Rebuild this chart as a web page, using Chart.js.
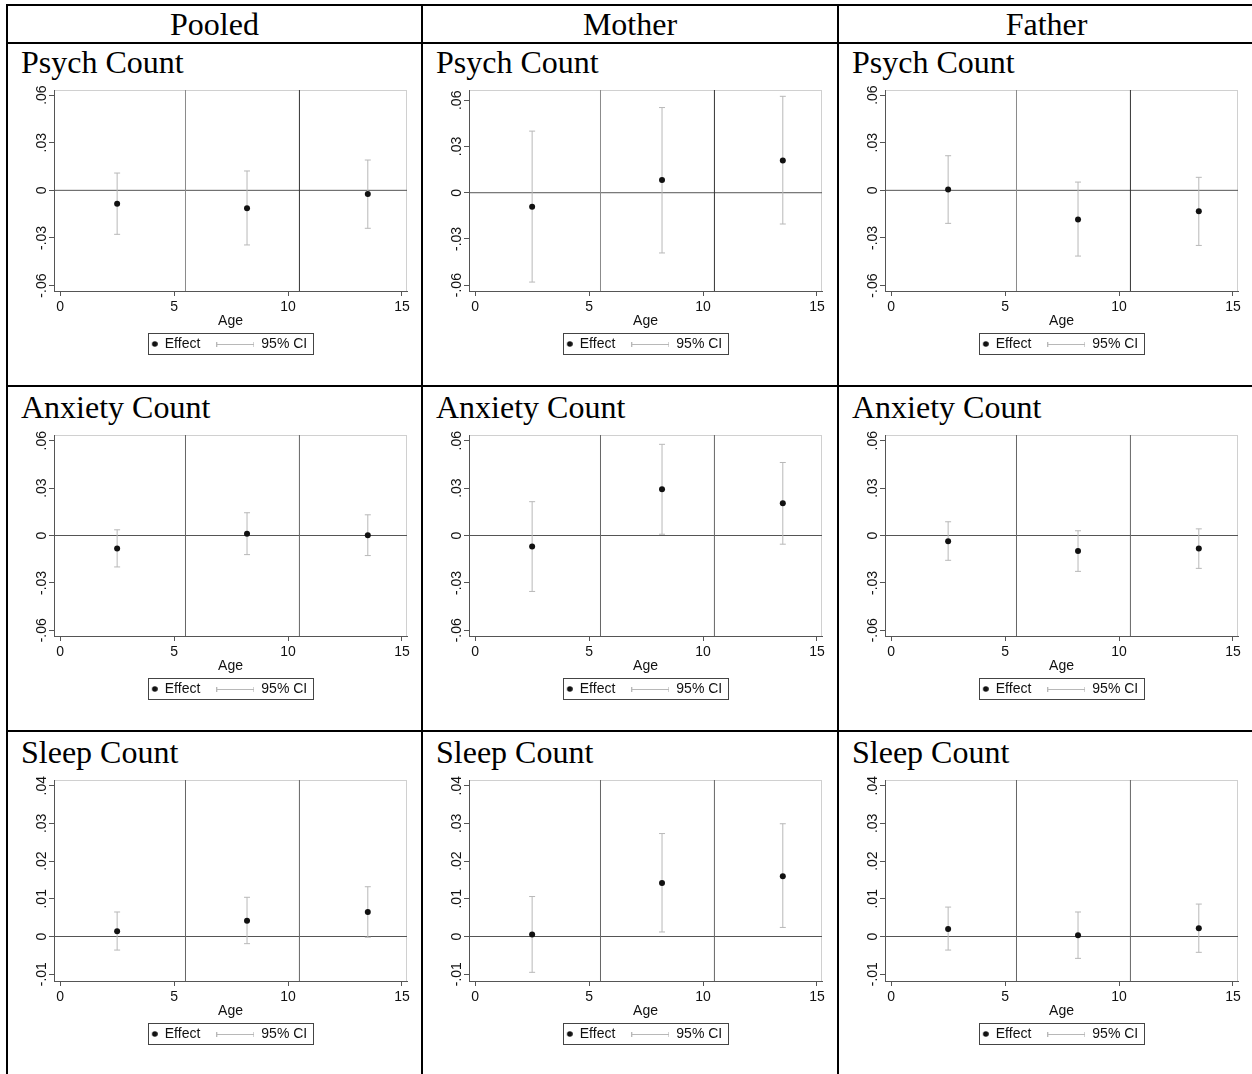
<!DOCTYPE html>
<html>
<head>
<meta charset="utf-8">
<title>Effects by Age</title>
<script src="https://cdn.jsdelivr.net/npm/chart.js@4.4.0/dist/chart.umd.min.js"></script>
<style>
    html, body { margin: 0; padding: 0; background: #fff; }
    #page { position: relative; width: 1252px; height: 1074px; overflow: hidden; }
    .rule { position: absolute; background: #000; }
    .head, .title {
        position: absolute;
        height: 32px;
        line-height: 32px;
        font-family: 'Liberation Serif', 'Times New Roman', serif;
        font-size: 32px;
        color: #000;
        white-space: nowrap;
    }
    .head { text-align: center; }
    canvas { position: absolute; }
</style>
</head>
<body>
<div id="page"></div>
<script>
//Data////////////////////////////////////////////////////////////////////////////////////
var columns = ['Pooled', 'Mother', 'Father'];
var outcomes = ['Psych Count', 'Anxiety Count', 'Sleep Count'];

var ages = [2.5, 8.2, 13.5];
var ageCutoffs = [5.5, 10.5];
var xTicks = [0, 5, 10, 15];
var xTickLabels = ['0', '5', '10', '15'];
var countTicks = [-0.06, -0.03, 0, 0.03, 0.06];
var countTickLabels = ['-.06', '-.03', '0', '.03', '.06'];
var sleepTicks = [-0.01, 0, 0.01, 0.02, 0.03, 0.04];
var sleepTickLabels = ['-.01', '0', '.01', '.02', '.03', '.04'];

var psychPooledEffect = [-0.0084, -0.0113, -0.0023];
var psychPooledLow = [-0.0277, -0.0344, -0.0239];
var psychPooledHigh = [0.0109, 0.0122, 0.0191];
var psychMotherEffect = [-0.0091, 0.0082, 0.0210];
var psychMotherLow = [-0.0580, -0.0391, -0.0203];
var psychMotherHigh = [0.0400, 0.0553, 0.0626];
var psychFatherEffect = [0.0006, -0.0183, -0.0132];
var psychFatherLow = [-0.0208, -0.0414, -0.0347];
var psychFatherHigh = [0.0218, 0.0052, 0.0082];

var anxietyPooledEffect = [-0.0083, 0.0011, 0.0002];
var anxietyPooledLow = [-0.0199, -0.0121, -0.0127];
var anxietyPooledHigh = [0.0036, 0.0144, 0.0131];
var anxietyMotherEffect = [-0.0070, 0.0293, 0.0204];
var anxietyMotherLow = [-0.0354, 0.0008, -0.0055];
var anxietyMotherHigh = [0.0214, 0.0577, 0.0462];
var anxietyFatherEffect = [-0.0036, -0.0098, -0.0083];
var anxietyFatherLow = [-0.0157, -0.0227, -0.0208];
var anxietyFatherHigh = [0.0087, 0.0030, 0.0042];

var sleepPooledEffect = [0.0014, 0.0042, 0.0065];
var sleepPooledLow = [-0.0036, -0.0019, -0.0002];
var sleepPooledHigh = [0.0065, 0.0104, 0.0132];
var sleepMotherEffect = [0.0005, 0.0142, 0.0160];
var sleepMotherLow = [-0.0095, 0.0012, 0.0024];
var sleepMotherHigh = [0.0106, 0.0273, 0.0299];
var sleepFatherEffect = [0.0020, 0.0003, 0.0022];
var sleepFatherLow = [-0.0036, -0.0058, -0.0042];
var sleepFatherHigh = [0.0078, 0.0065, 0.0086];

//Layout///////////////////////////////////////////////////////////////////////////////////
var colLeft = [6, 421, 837];
var rowTop = [42, 385, 730];
var titleOffset = [4, 6, 6];
var plotTop = [90, 435, 780];
var xMin = -0.27, xMax = 15.22;
var sans = "'Liberation Sans', Arial, sans-serif";
var ciColor = '#b8b8b8';
var axisColor = '#555';
var textColor = '#111';

var panels = [
    // row 0
    { effect: psychPooledEffect, low: psychPooledLow, high: psychPooledHigh, yMin: -0.0634, yMax: 0.0632, ticks: countTicks, labels: countTickLabels, cuts: ['#8a8a8a', '#333'] },
    { effect: psychMotherEffect, low: psychMotherLow, high: psychMotherHigh, yMin: -0.0638, yMax: 0.0667, ticks: countTicks, labels: countTickLabels, cuts: ['#8a8a8a', '#333'] },
    { effect: psychFatherEffect, low: psychFatherLow, high: psychFatherHigh, yMin: -0.0634, yMax: 0.0632, ticks: countTicks, labels: countTickLabels, cuts: ['#8a8a8a', '#333'] },
    // row 1
    { effect: anxietyPooledEffect, low: anxietyPooledLow, high: anxietyPooledHigh, yMin: -0.0636, yMax: 0.0636, ticks: countTicks, labels: countTickLabels, cuts: ['#666', '#666'] },
    { effect: anxietyMotherEffect, low: anxietyMotherLow, high: anxietyMotherHigh, yMin: -0.0636, yMax: 0.0636, ticks: countTicks, labels: countTickLabels, cuts: ['#666', '#666'] },
    { effect: anxietyFatherEffect, low: anxietyFatherLow, high: anxietyFatherHigh, yMin: -0.0636, yMax: 0.0636, ticks: countTicks, labels: countTickLabels, cuts: ['#666', '#666'] },
    // row 2
    { effect: sleepPooledEffect, low: sleepPooledLow, high: sleepPooledHigh, yMin: -0.0118, yMax: 0.0415, ticks: sleepTicks, labels: sleepTickLabels, cuts: ['#666', '#666'] },
    { effect: sleepMotherEffect, low: sleepMotherLow, high: sleepMotherHigh, yMin: -0.0118, yMax: 0.0415, ticks: sleepTicks, labels: sleepTickLabels, cuts: ['#666', '#666'] },
    { effect: sleepFatherEffect, low: sleepFatherLow, high: sleepFatherHigh, yMin: -0.0118, yMax: 0.0415, ticks: sleepTicks, labels: sleepTickLabels, cuts: ['#666', '#666'] }
];

var page = document.getElementById('page');

//Table (rules and headings)///////////////////////////////////////////////////////////////
function addRule(x, y, w, h) {
    var d = document.createElement('div');
    d.className = 'rule';
    d.style.left = x + 'px';
    d.style.top = y + 'px';
    d.style.width = w + 'px';
    d.style.height = h + 'px';
    page.appendChild(d);
}
addRule(6, 4, 1260, 2);
addRule(6, 42, 1260, 2);
addRule(6, 385, 1260, 2);
addRule(6, 730, 1260, 2);
colLeft.forEach(function (x) { addRule(x, 4, 2, 1080); });

columns.forEach(function (name, c) {
    var d = document.createElement('div');
    d.className = 'head';
    var right = c < 2 ? colLeft[c + 1] : 1254;
    d.style.left = (colLeft[c] + 2) + 'px';
    d.style.width = (right - colLeft[c] - 2) + 'px';
    d.style.top = '8px';
    d.textContent = name;
    page.appendChild(d);
});

//Legend symbols//////////////////////////////////////////////////////////////////////////
function makeDotSymbol() {
    var cv = document.createElement('canvas');
    cv.width = 38; cv.height = 14;
    var ctx = cv.getContext('2d');
    ctx.fillStyle = '#111';
    ctx.beginPath();
    ctx.arc(35, 7, 2.8, 0, Math.PI * 2);
    ctx.fill();
    return cv;
}
function makeCiSymbol() {
    var cv = document.createElement('canvas');
    cv.width = 38; cv.height = 14;
    var ctx = cv.getContext('2d');
    ctx.strokeStyle = ciColor;
    ctx.lineWidth = 1;
    ctx.beginPath();
    ctx.moveTo(0.5, 7.5); ctx.lineTo(37.5, 7.5);
    ctx.moveTo(0.5, 5); ctx.lineTo(0.5, 10);
    ctx.moveTo(37.5, 5); ctx.lineTo(37.5, 10);
    ctx.stroke();
    return cv;
}
var dotSymbol = makeDotSymbol();
var ciSymbol = makeCiSymbol();

// plot region frame and legend box (Stata style)
var stataFrame = {
    id: 'stataFrame',
    beforeDraw: function (chart) {
        var a = chart.chartArea, ctx = chart.ctx;
        ctx.save();
        ctx.strokeStyle = '#d0d0d0';
        ctx.lineWidth = 1;
        ctx.strokeRect(Math.round(a.left) + 0.5, Math.round(a.top) + 0.5,
            Math.round(a.right - a.left) - 1, Math.round(a.bottom - a.top));
        ctx.restore();
    },
    afterDraw: function (chart) {
        var hb = chart.legend.legendHitBoxes;
        if (!hb || hb.length < 2) return;
        var ctx = chart.ctx;
        var left = Math.round(hb[0].left + 28.5);
        var right = Math.round(hb[1].left + hb[1].width + 6);
        var top = Math.round(hb[0].top - 4);
        var bottom = Math.round(hb[0].top + 17);
        ctx.save();
        ctx.strokeStyle = '#444';
        ctx.lineWidth = 1;
        ctx.strokeRect(left + 0.5, top + 0.5, right - left, bottom - top);
        ctx.restore();
    }
};

//Charts///////////////////////////////////////////////////////////////////////////////////
function makePanel(canvas, p) {
    var datasets = [];
    datasets.push({
        label: 'Effect',
        data: ages.map(function (a, i) { return { x: a, y: p.effect[i] }; }),
        showLine: false,
        pointStyle: 'circle',
        pointRadius: 3,
        pointBackgroundColor: '#111',
        pointBorderColor: '#111',
        pointBorderWidth: 0
    });
    ages.forEach(function (a, i) {
        datasets.push({
            label: '95% CI',
            data: [{ x: a, y: p.low[i] }, { x: a, y: p.high[i] }],
            showLine: true,
            borderColor: ciColor,
            borderWidth: 1,
            pointStyle: 'line',
            pointRadius: 3,
            pointBorderColor: ciColor,
            pointBorderWidth: 1
        });
    });
    ageCutoffs.forEach(function (c, k) {
        datasets.push({
            label: 'cut',
            data: [{ x: c, y: p.yMin }, { x: c, y: p.yMax }],
            showLine: true,
            borderColor: p.cuts[k],
            borderWidth: 1,
            pointRadius: 0
        });
    });
    datasets.push({
        label: 'zero',
        data: [{ x: xMin, y: 0 }, { x: xMax, y: 0 }],
        showLine: true,
        borderColor: '#555',
        borderWidth: 1,
        pointRadius: 0
    });

    return new Chart(canvas.getContext('2d'), {
        type: 'scatter',
        data: { datasets: datasets },
        plugins: [stataFrame],
        options: {
            responsive: false,
            animation: false,
            events: [],
            layout: { padding: { top: 18, right: 10, bottom: 4, left: 0 } },
            scales: {
                x: {
                    type: 'linear',
                    min: xMin,
                    max: xMax,
                    afterBuildTicks: function (s) { s.ticks = xTicks.map(function (v) { return { value: v }; }); },
                    afterFit: function (s) { s.height = 30; },
                    ticks: {
                        color: textColor, font: { size: 14, family: sans }, padding: 3,
                        autoSkip: false, maxRotation: 0,
                        callback: function (v, i) { return xTickLabels[i]; }
                    },
                    grid: { drawOnChartArea: false, drawTicks: true, tickLength: 5, color: axisColor },
                    border: { color: axisColor },
                    title: { display: true, text: 'Age', color: textColor, font: { size: 14, family: sans }, padding: { top: 0, bottom: -9 } }
                },
                y: {
                    type: 'linear',
                    min: p.yMin,
                    max: p.yMax,
                    afterBuildTicks: function (s) { s.ticks = p.ticks.map(function (v) { return { value: v }; }); },
                    afterFit: function (s) { s.width = 34; },
                    ticks: {
                        color: textColor, font: { size: 14, family: sans }, padding: -5,
                        minRotation: 90, maxRotation: 90, crossAlign: 'center', autoSkip: false,
                        callback: function (v, i) { return p.labels[i]; }
                    },
                    grid: { drawOnChartArea: false, drawTicks: true, tickLength: 5, color: axisColor },
                    border: { color: axisColor }
                }
            },
            plugins: {
                tooltip: { enabled: false },
                legend: {
                    position: 'bottom',
                    labels: {
                        usePointStyle: true,
                        pointStyleWidth: 38,
                        padding: 16,
                        color: textColor,
                        font: { size: 14, family: sans },
                        generateLabels: function () {
                            return [
                                { text: 'Effect', pointStyle: dotSymbol, fillStyle: '#111', strokeStyle: '#111', lineWidth: 0, hidden: false, datasetIndex: 0, fontColor: textColor },
                                { text: '95% CI', pointStyle: ciSymbol, fillStyle: ciColor, strokeStyle: ciColor, lineWidth: 0, hidden: false, datasetIndex: 1, fontColor: textColor }
                            ];
                        }
                    }
                }
            }
        }
    });
}

panels.forEach(function (p, n) {
    var r = Math.floor(n / 3), c = n % 3;

    var t = document.createElement('div');
    t.className = 'title';
    t.style.left = (colLeft[c] + 15) + 'px';
    t.style.top = (rowTop[r] + titleOffset[r]) + 'px';
    t.textContent = outcomes[r];
    page.appendChild(t);

    var cv = document.createElement('canvas');
    cv.width = 397;
    cv.height = 293;
    cv.style.left = (colLeft[c] + 14) + 'px';
    cv.style.top = (plotTop[r] - 18) + 'px';
    page.appendChild(cv);
    makePanel(cv, p);
});
</script>
</body>
</html>
